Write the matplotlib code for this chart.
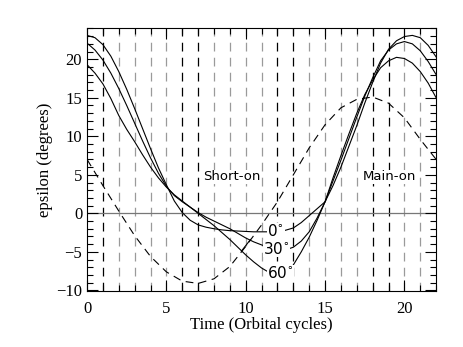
import matplotlib
matplotlib.use('Agg')
import matplotlib.pyplot as plt
from matplotlib.ticker import MultipleLocator

# sample points (orbital cycles) for the solid curves
xs = [0, 0.5, 1, 1.5, 2, 2.5, 3, 3.5, 4, 4.5, 5, 5.5, 6, 6.5, 7, 7.5, 8, 8.5, 9, 9.5,
      10, 10.5, 11, 11.5, 12, 12.5, 13, 13.5, 14, 14.5, 15, 15.5, 16, 16.5, 17, 17.5,
      18, 18.5, 19, 19.5, 20, 20.5, 21, 21.5, 22]
eps_0 = [23.1, 22.8, 21.9, 20.4, 18.4, 16.1, 13.6, 11.0, 8.4, 5.9, 3.7, 1.6, 0.1, -0.9, -1.5, -1.8, -2.0, -2.15, -2.25, -2.3,
         -2.35, -2.4, -2.4, -2.4, -2.35, -2.2, -1.9, -1.2, -0.3, 0.6, 1.5, 3.6, 6.0, 8.7, 11.4, 14.3,
         17.0, 19.5, 21.3, 22.4, 22.95, 23.1, 22.8, 21.8, 20.3]
eps_30 = [22.1, 21.2, 19.9, 18.2, 16.2, 14.0, 11.7, 9.4, 7.2, 5.2, 3.5, 2.3, 1.5, 0.8, 0.1, -0.5, -1.0, -1.5, -2.0, -2.6,
          -3.2, -3.7, -4.1, -4.45, -4.7, -4.75, -4.4, -3.6, -2.4, -0.6, 1.5, 4.2, 6.9, 9.7, 12.5, 15.2,
          17.6, 19.8, 21.2, 22.0, 22.3, 22.0, 21.1, 19.7, 18.0]
eps_60 = [19.3, 18.2, 16.8, 14.9, 12.7, 10.9, 9.3, 7.6, 6.0, 4.6, 3.4, 2.4, 1.6, 0.8, 0.0, -0.8, -1.6, -2.5, -3.4, -4.4,
          -5.4, -6.3, -7.1, -7.7, -8.0, -7.8, -6.7, -5.0, -3.1, -0.9, 1.5, 4.6, 7.5, 10.3, 13.0, 15.4,
          17.3, 18.9, 19.8, 20.25, 20.1, 19.5, 18.4, 16.9, 15.0]

# dashed curve
xd = list(range(0, 23))
eps_dash = [7.0, 3.6, 0.3, -2.9, -5.6, -7.6, -8.8, -9.1, -8.5, -6.9, -4.3, -1.5, 1.5, 5.0, 8.5, 11.5,
            13.7, 14.8, 15.1, 14.3, 12.4, 9.6, 7.0]

# vertical markers: integer cycles, some drawn darker
marks = list(range(1, 22))
dark_marks = [1, 6, 7, 12, 13, 18, 19]

curve_labels = ['0', '30', '60']
label_pos = [(11.9, -2.35), (11.95, -4.6), (12.2, -7.8)]

plt.rcParams['font.family'] = ['Liberation Serif', 'DejaVu Serif']
plt.rcParams['mathtext.fontset'] = 'dejavusans'

fig = plt.figure(figsize=(4.63, 3.47), dpi=100)
ax = fig.add_axes([0.188, 0.161, 0.754, 0.757])

for m in marks:
    c = 'black' if m in dark_marks else '#9a9a9a'
    ax.axvline(m, color=c, lw=0.9, ls=(0, (7, 5)), zorder=1)
ax.axhline(0, color='#777777', lw=0.9, zorder=1)

for ys in (eps_0, eps_30, eps_60):
    ax.plot(xs, ys, color='black', lw=0.8, zorder=3)
ax.plot(xd, eps_dash, color='black', lw=0.8, ls=(0, (7, 5)), zorder=3)
ax.plot([9.73, 10.3], [-4.9, -3.4], color='black', lw=0.8, zorder=3)

for lab, (x, y) in zip(curve_labels, label_pos):
    ax.text(x, y, lab + r'$^{\circ}$', family='DejaVu Sans', fontsize=11,
            ha='center', va='center', zorder=4,
            bbox=dict(facecolor='white', edgecolor='none', pad=0.3))

for txt, x in (('Short-on', 9.1), ('Main-on', 19.05)):
    ax.text(x, 4.75, txt, family='DejaVu Sans', fontsize=9.5, ha='center', va='center',
            zorder=4, bbox=dict(facecolor='white', edgecolor='none', pad=0.5))

ax.set_xlim(0, 22)
ax.set_ylim(-10.1, 24)
ax.xaxis.set_major_locator(MultipleLocator(5))
ax.xaxis.set_minor_locator(MultipleLocator(1))
ax.yaxis.set_major_locator(MultipleLocator(5))
ax.yaxis.set_minor_locator(MultipleLocator(1))
ax.tick_params(which='both', direction='in', top=True, right=True, labelsize=12, width=0.8)
ax.tick_params(which='major', length=8)
ax.tick_params(which='minor', length=4)
ax.tick_params(axis='x', pad=7)
for s in ax.spines.values():
    s.set_linewidth(0.8)
ax.set_xlabel('Time (Orbital cycles)', fontsize=12, labelpad=0)
ax.set_ylabel('epsilon (degrees)', fontsize=12, labelpad=2)

fig.savefig('out.png', dpi=100)
